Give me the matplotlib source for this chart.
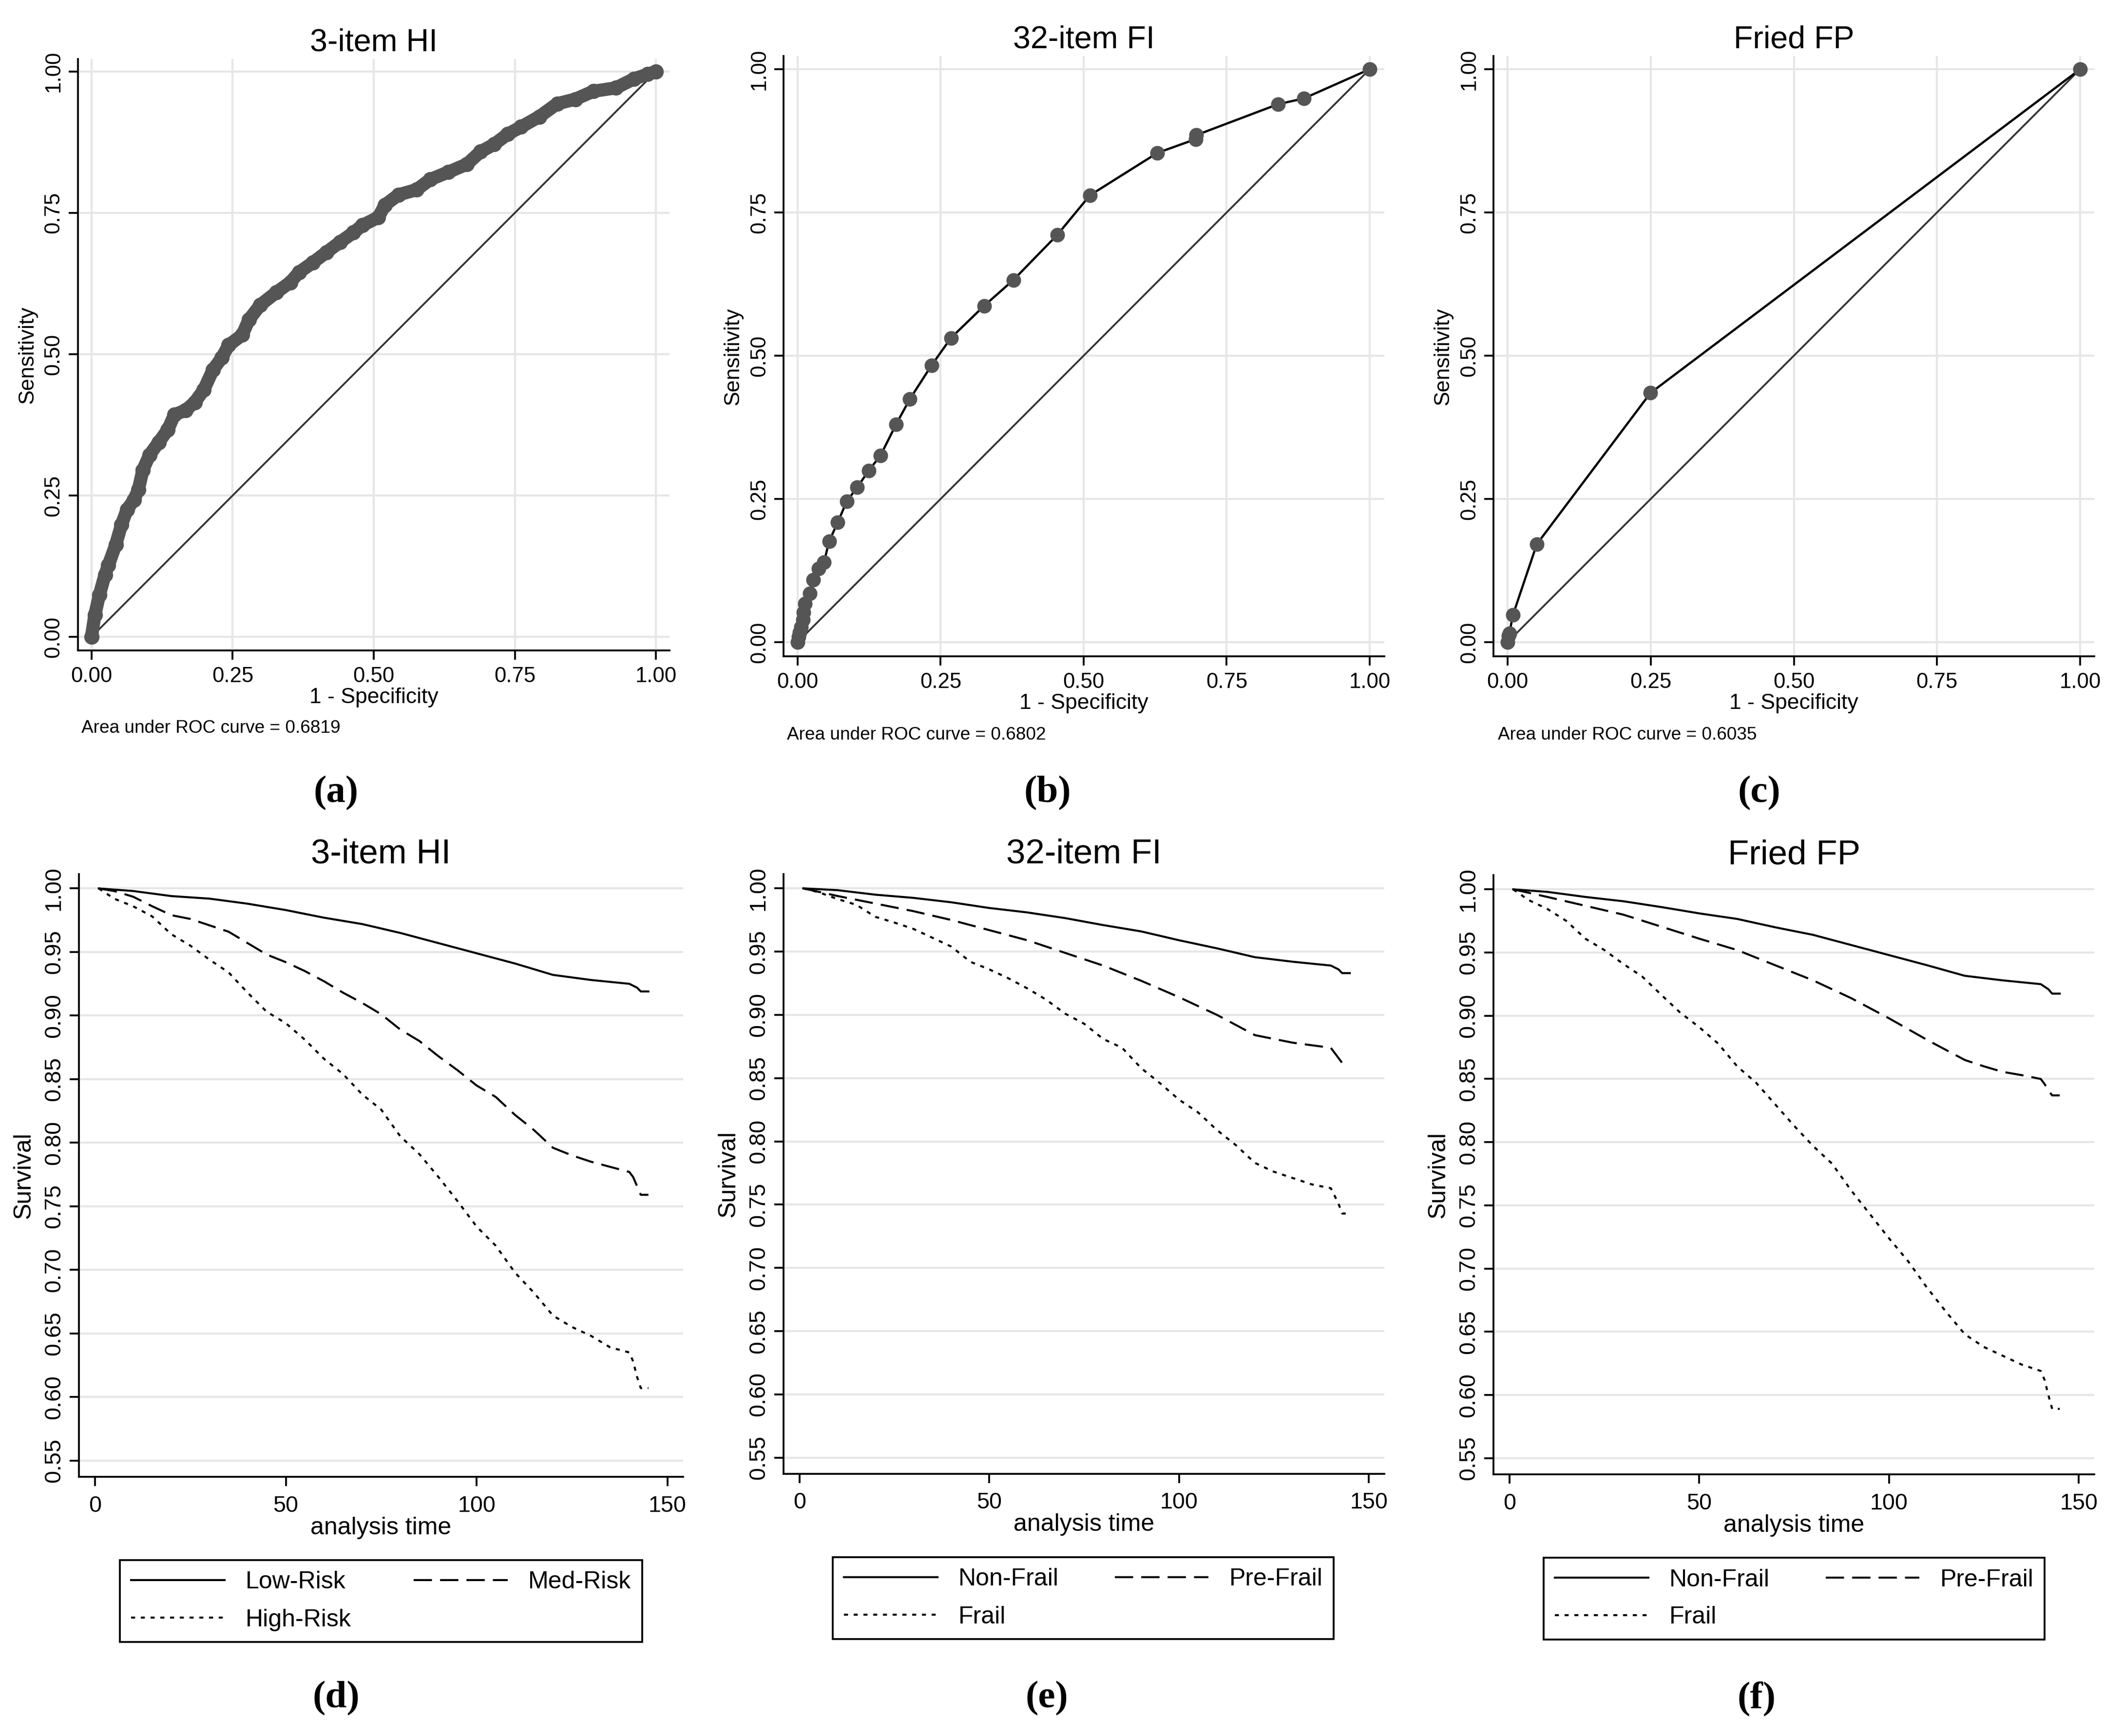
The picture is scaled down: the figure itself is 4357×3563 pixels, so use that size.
import matplotlib
matplotlib.use("Agg")
import matplotlib.pyplot as plt
from matplotlib.lines import Line2D
from matplotlib.ticker import FormatStrFormatter

plt.rcParams['font.family'] = ['Liberation Sans', 'DejaVu Sans']

# ---------------- ROC data ----------------
roc_titles = ["3-item HI", "32-item FI", "Fried FP"]
roc_auc = ["0.6819", "0.6802", "0.6035"]

hi_fpr = [0, 0.006, 0.014, 0.024, 0.030, 0.043, 0.053, 0.063, 0.075, 0.083, 0.091, 0.103,
          0.119, 0.135, 0.147, 0.167, 0.183, 0.199, 0.215, 0.231, 0.243, 0.267, 0.279, 0.299,
          0.327, 0.352, 0.368, 0.392, 0.416, 0.440, 0.464, 0.480, 0.508, 0.520, 0.544, 0.576,
          0.600, 0.632, 0.665, 0.689, 0.713, 0.737, 0.761, 0.793, 0.825, 0.857, 0.889, 0.929,
          0.961, 0.985, 1.0]
hi_tpr = [0, 0.039, 0.074, 0.110, 0.127, 0.163, 0.198, 0.225, 0.242, 0.260, 0.295, 0.322,
          0.344, 0.366, 0.393, 0.401, 0.415, 0.437, 0.472, 0.494, 0.516, 0.534, 0.561, 0.587,
          0.609, 0.627, 0.645, 0.662, 0.680, 0.698, 0.715, 0.728, 0.742, 0.764, 0.782, 0.791,
          0.809, 0.822, 0.836, 0.858, 0.871, 0.889, 0.902, 0.920, 0.943, 0.951, 0.965, 0.971,
          0.987, 0.995, 1.0]

fi_fpr = [0, 0.0016, 0.003, 0.006, 0.009, 0.010, 0.013, 0.021, 0.027, 0.037, 0.046, 0.055,
          0.070, 0.086, 0.104, 0.124, 0.145, 0.172, 0.196, 0.234, 0.268, 0.326, 0.377, 0.454,
          0.511, 0.629, 0.696, 0.697, 0.840, 0.885, 1.0]
fi_tpr = [0, 0.009, 0.017, 0.026, 0.039, 0.052, 0.067, 0.085, 0.109, 0.128, 0.139, 0.176,
          0.209, 0.246, 0.270, 0.299, 0.326, 0.380, 0.424, 0.483, 0.531, 0.587, 0.632, 0.711,
          0.780, 0.854, 0.878, 0.885, 0.939, 0.949, 1.0]

fp_fpr = [0, 0.0016, 0.003, 0.0095, 0.051, 0.2496, 1.0]
fp_tpr = [0, 0.011, 0.015, 0.048, 0.171, 0.435, 1.0]

# ---------------- Survival data ----------------
surv_titles = ["3-item HI", "32-item FI", "Fried FP"]
hi_labels = ["Low-Risk", "Med-Risk", "High-Risk"]
fr_labels = ["Non-Frail", "Pre-Frail", "Frail"]

t10 = [1, 10, 20, 30, 40, 50, 60, 70, 80, 90, 100, 110, 120, 130, 140, 142, 143, 145]
t5 = [1, 5, 10, 15, 20, 25, 30, 35, 40, 45, 50, 55, 60, 65, 70, 75, 80, 85, 90, 95, 100,
      105, 110, 115, 120, 125, 130, 135, 140, 141, 142, 143, 145]
t_pre = [1, 10, 20, 30, 40, 50, 60, 70, 80, 90, 100, 110, 120, 125, 130, 135, 140, 141,
         142, 143, 145]

d_low = [1.000, 0.998, 0.994, 0.992, 0.988, 0.983, 0.977, 0.972, 0.965, 0.957, 0.949, 0.941,
         0.932, 0.928, 0.925, 0.922, 0.919, 0.919]
d_med = [1.000, 0.998, 0.9935, 0.986, 0.979, 0.976, 0.971, 0.966, 0.957, 0.948, 0.942, 0.935,
         0.927, 0.918, 0.910, 0.901, 0.889, 0.880, 0.868, 0.857, 0.845, 0.836, 0.822, 0.810,
         0.796, 0.790, 0.785, 0.781, 0.777, 0.773, 0.766, 0.759, 0.759]
d_high = [1.000, 0.992, 0.986, 0.978, 0.964, 0.955, 0.944, 0.934, 0.918, 0.903, 0.894, 0.881,
          0.866, 0.854, 0.838, 0.826, 0.805, 0.791, 0.773, 0.754, 0.734, 0.719, 0.698, 0.682,
          0.664, 0.655, 0.648, 0.639, 0.635, 0.628, 0.616, 0.607, 0.607]

e_non = [1.000, 0.9986, 0.995, 0.9925, 0.989, 0.9845, 0.981, 0.9765, 0.971, 0.966, 0.959,
         0.9526, 0.9456, 0.942, 0.939, 0.936, 0.933, 0.933]
e_pre = [1.000, 0.994, 0.988, 0.982, 0.975, 0.967, 0.959, 0.949, 0.939, 0.927, 0.914, 0.900,
         0.884, 0.881, 0.878, 0.876, 0.874, 0.870, 0.866, 0.862, 0.862]
e_frail = [1.000, 0.997, 0.9916, 0.987, 0.9775, 0.973, 0.968, 0.961, 0.954, 0.942, 0.936,
           0.929, 0.921, 0.912, 0.901, 0.893, 0.881, 0.874, 0.858, 0.846, 0.833, 0.823, 0.809,
           0.797, 0.783, 0.776, 0.771, 0.766, 0.763, 0.757, 0.751, 0.743, 0.743]

f_non = [1.000, 0.998, 0.994, 0.9906, 0.986, 0.981, 0.9766, 0.970, 0.964, 0.956, 0.948, 0.940,
         0.9316, 0.928, 0.925, 0.921, 0.9175, 0.9175]
f_pre = [1.000, 0.994, 0.987, 0.980, 0.9705, 0.961, 0.952, 0.940, 0.928, 0.914, 0.898, 0.881,
         0.865, 0.860, 0.8556, 0.853, 0.850, 0.846, 0.841, 0.837, 0.837]
f_frail = [1.000, 0.9916, 0.9845, 0.975, 0.961, 0.952, 0.941, 0.931, 0.9166, 0.9025, 0.891,
           0.878, 0.860, 0.847, 0.830, 0.813, 0.797, 0.783, 0.762, 0.743, 0.724, 0.706, 0.685,
           0.666, 0.648, 0.638, 0.631, 0.624, 0.619, 0.612, 0.600, 0.589, 0.589]

roc_ticks = [0, 0.25, 0.5, 0.75, 1.0]
surv_xticks = [0, 50, 100, 150]
surv_yticks = [0.55, 0.60, 0.65, 0.70, 0.75, 0.80, 0.85, 0.90, 0.95, 1.00]
panel_letters = ["a", "b", "c", "d", "e", "f"]

# ---------------- Figure ----------------
W, H = 4357, 3563
DPI = 300
fig = plt.figure(figsize=(W / DPI, H / DPI), dpi=DPI)

GRID = '#e6e6e6'
MK = '#555555'
SOLID = '-'
DASH = (0, (9, 4))
DOT = (0, (2, 2.8))


def style_axes(ax, tick_fs):
    for s in ['top', 'right']:
        ax.spines[s].set_visible(False)
    for s in ['left', 'bottom']:
        ax.spines[s].set_linewidth(0.9)
    ax.tick_params(axis='both', direction='out', length=4.5, width=0.9, labelsize=tick_fs,
                   colors='black')
    ax.tick_params(axis='y', pad=2.5)
    for lab in ax.get_yticklabels():
        lab.set_rotation(90)
        lab.set_va('center')
    ax.set_axisbelow(True)


roc_pos = [[0.0367, 0.6253, 0.2787, 0.3407],
           [0.36906, 0.62195, 0.2830, 0.34577],
           [0.70347, 0.62195, 0.2830, 0.34577]]
roc_lims = [((-0.024, 1.024), (-0.024, 1.022)),
            ((-0.0247, 1.0256), (-0.0247, 1.023)),
            ((-0.0247, 1.0247), (-0.0247, 1.023))]
roc_data = [(hi_fpr, hi_tpr), (fi_fpr, fi_tpr), (fp_fpr, fp_tpr)]
auc_pos = [(167, 1494), (1615, 1508), (3074, 1508)]

for i in range(3):
    ax = fig.add_axes(roc_pos[i])
    ax.set_xlim(*roc_lims[i][0])
    ax.set_ylim(*roc_lims[i][1])
    ax.set_xticks(roc_ticks)
    ax.set_yticks(roc_ticks)
    ax.xaxis.set_major_formatter(FormatStrFormatter('%.2f'))
    ax.yaxis.set_major_formatter(FormatStrFormatter('%.2f'))
    ax.grid(True, color=GRID, lw=1.0)
    ax.plot([0, 1], [0, 1], color='#333333', lw=0.9, zorder=2)
    x, y = roc_data[i]
    if i == 0:
        ax.plot(x, y, color=MK, lw=6.5, solid_capstyle='round', solid_joinstyle='round',
                marker='o', ms=6.5, mfc=MK, mec=MK, zorder=3)
    else:
        ax.plot(x, y, color='black', lw=1.1, marker='o', ms=6.2, mfc=MK, mec=MK, zorder=3)
    style_axes(ax, 10.5)
    ax.set_title(roc_titles[i], fontsize=15.5, pad=4)
    ax.set_xlabel("1 - Specificity", fontsize=10.7, labelpad=0.5)
    ax.set_ylabel("Sensitivity", fontsize=10.7, labelpad=3)
    fig.text(auc_pos[i][0] / W, 1 - auc_pos[i][1] / H,
             "Area under ROC curve = " + roc_auc[i], fontsize=8.9, ha='left', va='center')

surv_pos = [[0.03718, 0.14931, 0.2846, 0.34718],
            [0.36906, 0.1510, 0.2830, 0.34550],
            [0.70347, 0.15071, 0.2830, 0.34522]]
surv_data = [
    [(t10, d_low), (t5, d_med), (t5, d_high)],
    [(t10, e_non), (t_pre, e_pre), (t5, e_frail)],
    [(t10, f_non), (t_pre, f_pre), (t5, f_frail)],
]
surv_labels = [hi_labels, fr_labels, fr_labels]
leg_boxes = [(246, 1318, 3202), (1709, 2737, 3196), (3168, 4196, 3197)]
styles = [SOLID, DASH, DOT]

for i in range(3):
    ax = fig.add_axes(surv_pos[i])
    ax.set_xlim(-4.2, 154.1)
    ax.set_ylim(0.5372, 1.0113)
    ax.set_xticks(surv_xticks)
    ax.set_yticks(surv_yticks)
    ax.yaxis.set_major_formatter(FormatStrFormatter('%.2f'))
    ax.grid(True, axis='y', color=GRID, lw=1.0)
    handles = []
    for (t, s), ls, lab in zip(surv_data[i], styles, surv_labels[i]):
        ax.plot(t, s, color='black', lw=1.0, linestyle=ls, zorder=3)
        handles.append(Line2D([], [], color='black', lw=1.0, linestyle=ls, label=lab))
    style_axes(ax, 11.2)
    ax.tick_params(axis='x', pad=4.5)
    ax.set_title(surv_titles[i], fontsize=17, pad=5.5)
    ax.set_xlabel("analysis time", fontsize=12, labelpad=0)
    ax.set_ylabel("Survival", fontsize=12, labelpad=4)
    x0, x1, ytop = leg_boxes[i]
    order = [handles[0], handles[2], handles[1]]
    leg = fig.legend(handles=order, labels=[h.get_label() for h in order], ncol=2,
                     loc='upper left',
                     bbox_to_anchor=(x0 / W, 1 - ytop / H - 0.05, (x1 - x0) / W, 0.05),
                     bbox_transform=fig.transFigure, mode='expand', frameon=True,
                     fancybox=False, edgecolor='black', framealpha=1, fontsize=12,
                     handlelength=3.85, handletextpad=0.85, borderpad=0.45,
                     labelspacing=0.62, borderaxespad=0)
    leg.get_frame().set_linewidth(0.9)

label_pos = [(690, 1628), (2150, 1628), (3610, 1628), (690, 3486), (2148, 3486), (3605, 3486)]
for (px, py), letter in zip(label_pos, panel_letters):
    fig.text(px / W, 1 - py / H, "(" + letter + ")", fontsize=19, fontweight='bold',
             family=['Liberation Serif', 'DejaVu Serif'], ha='center', va='center')

fig.savefig("out.png", dpi=DPI, facecolor='white')
